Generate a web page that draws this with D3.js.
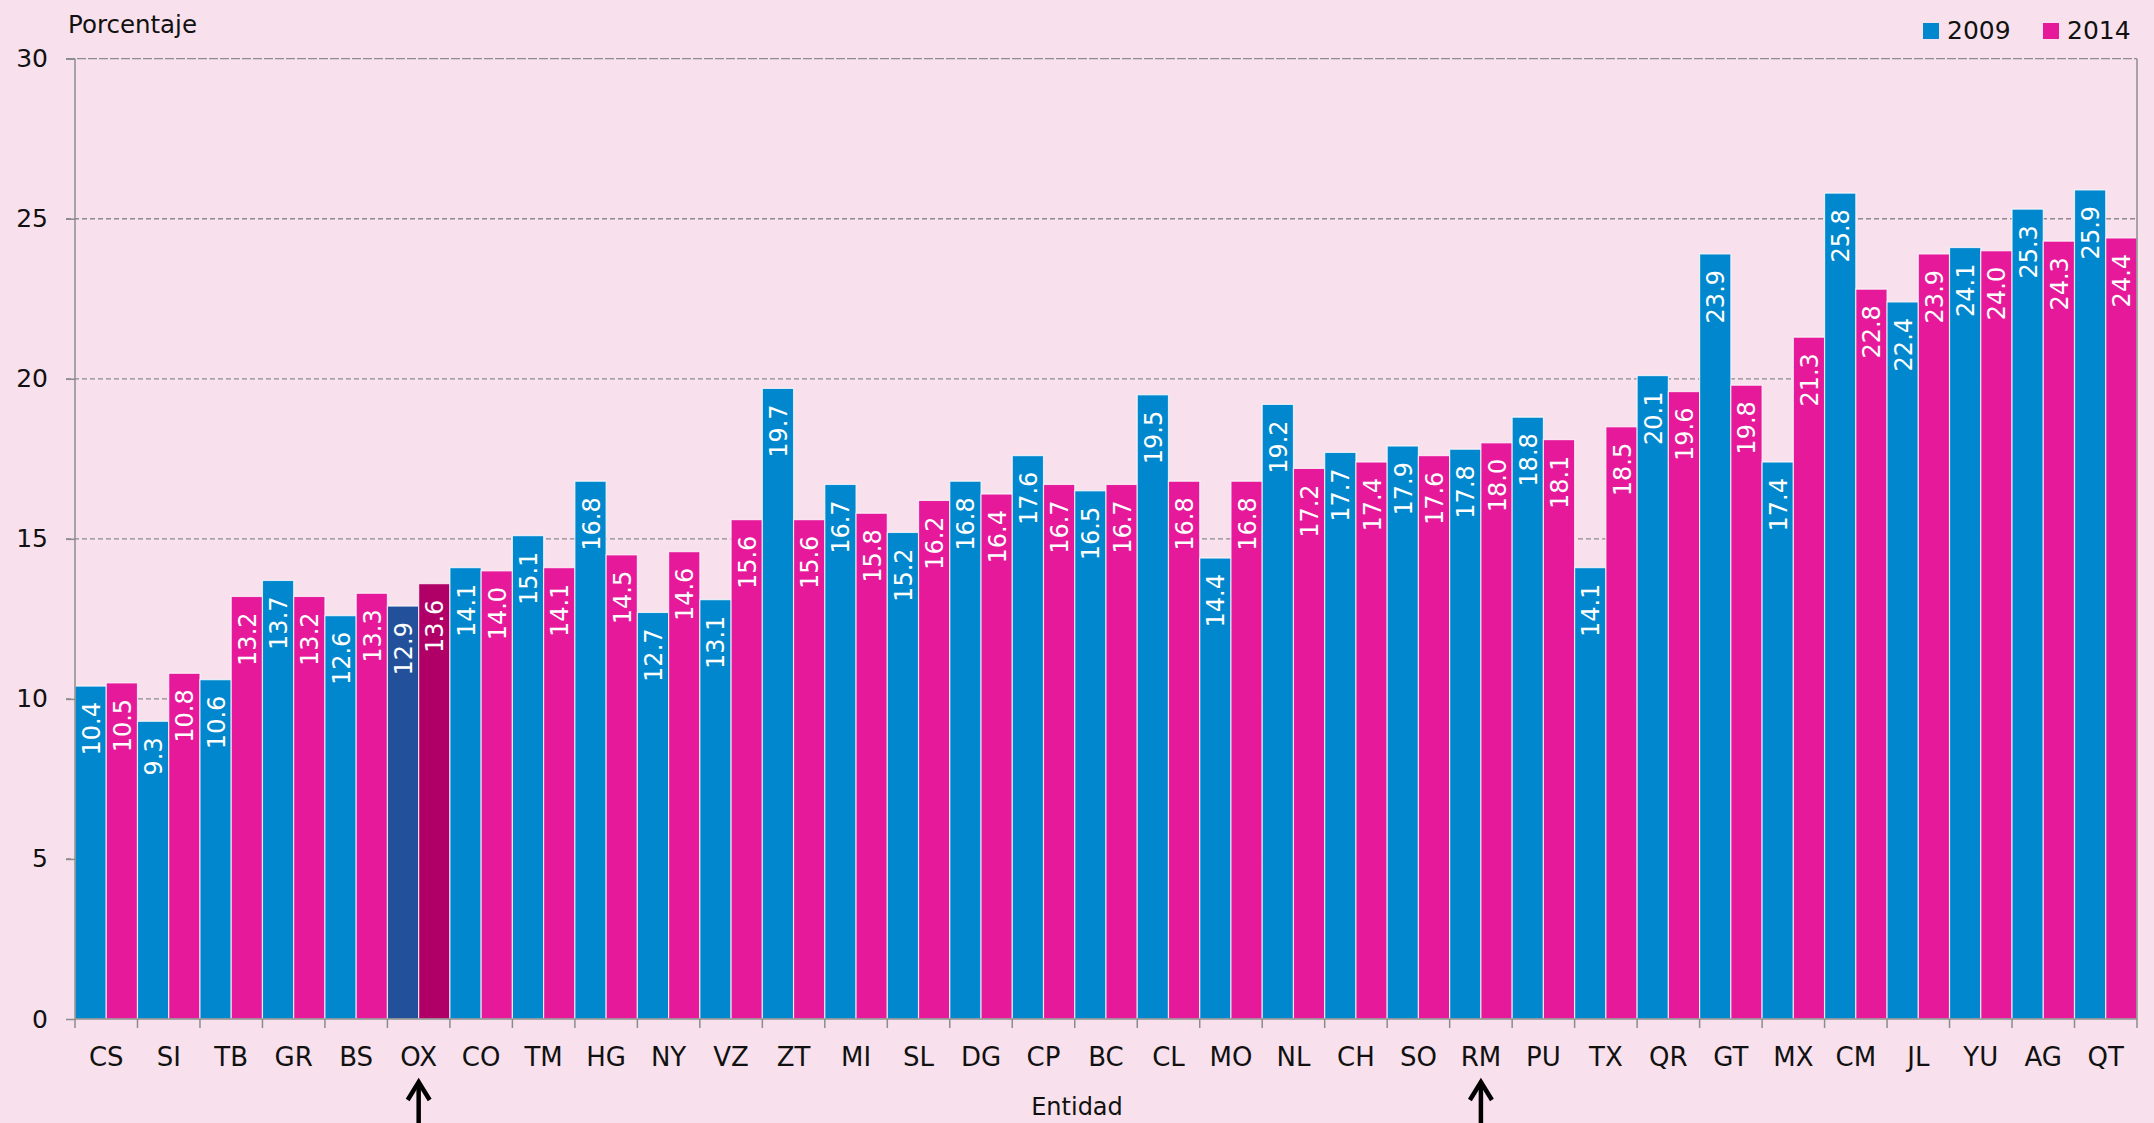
<!DOCTYPE html>
<html>
<head>
<meta charset="utf-8">
<script src="https://cdn.jsdelivr.net/npm/d3@7"></script>
<style>
  html, body { margin: 0; padding: 0; background: #F8E1EC; }
  svg { display: block; }
  text { font-family: "DejaVu Sans", "Noto Sans", sans-serif; }
</style>
</head>
<body>
<svg id="chart" width="2154" height="1123"></svg>
<script>
// Entities (states plus national total "RM")
const categories = ["CS","SI","TB","GR","BS","OX","CO","TM","HG","NY","VZ","ZT","MI","SL","DG","CP","BC","CL","MO","NL","CH","SO","RM","PU","TX","QR","GT","MX","CM","JL","YU","AG","QT"];
const values2009 = [10.4,9.3,10.6,13.7,12.6,12.9,14.1,15.1,16.8,12.7,13.1,19.7,16.7,15.2,16.8,17.6,16.5,19.5,14.4,19.2,17.7,17.9,17.8,18.8,14.1,20.1,23.9,17.4,25.8,22.4,24.1,25.3,25.9];
const values2014 = [10.5,10.8,13.2,13.2,13.3,13.6,14.0,14.1,14.5,14.6,15.6,15.6,15.8,16.2,16.4,16.7,16.7,16.8,16.8,17.2,17.4,17.6,18.0,18.1,18.5,19.6,19.8,21.3,22.8,23.9,24.0,24.3,24.4];
const seriesNames = ["2009","2014"];
const yTicks = [0,5,10,15,20,25,30];
const highlighted = ["OX","RM"];
const darkBar = {"OX": ["#23509A", "#B00068"]};

const colors = ["#0087CE", "#E5199A"];

const svg = d3.select("#chart");
const margin = {left: 75, right: 17, top: 58.7, bottom: 104};
const W = 2154, H = 1123;
const x0 = margin.left, x1 = W - margin.right;
const yTop = margin.top, yBot = H - margin.bottom;

const x = d3.scaleBand().domain(categories).range([x0, x1]).paddingInner(0).paddingOuter(0);
const xs = d3.scaleBand().domain(seriesNames).range([0, x.bandwidth()]).padding(0);
const y = d3.scaleLinear().domain([0, 30]).range([yBot, yTop]);

// Horizontal dashed gridlines
svg.append("g").selectAll("line").data(yTicks.filter(d => d > 0)).join("line")
  .attr("x1", x0 - 9).attr("x2", x1)
  .attr("y1", d => y(d)).attr("y2", d => y(d))
  .attr("stroke", "#8c8c8c").attr("stroke-width", 1.3)
  .attr("stroke-dasharray", d => d === 30 ? "9,2" : "5,3");

// Bars
const rows = categories.map((c, i) => ({c, v: [values2009[i], values2014[i]]}));
const grp = svg.append("g").selectAll("g").data(rows).join("g")
  .attr("transform", d => `translate(${x(d.c)},0)`);

grp.selectAll("rect").data(d => d.v.map((v, k) => ({c: d.c, v, k}))).join("rect")
  .attr("x", d => xs(seriesNames[d.k]))
  .attr("width", xs.bandwidth())
  .attr("y", d => y(d.v))
  .attr("height", d => y(0) - y(d.v))
  .attr("fill", d => darkBar[d.c] ? darkBar[d.c][d.k] : colors[d.k])
  .attr("stroke", "rgba(255,255,255,0.75)").attr("stroke-width", 1.2);

// Value labels, rotated inside the top of each bar
grp.selectAll("text").data(d => d.v.map((v, k) => ({c: d.c, v, k}))).join("text")
  .attr("transform", d => `translate(${xs(seriesNames[d.k]) + xs.bandwidth() / 2 + 1},${y(d.v) + 16}) rotate(-90)`)
  .attr("text-anchor", "end")
  .attr("dominant-baseline", "central")
  .attr("fill", "#ffffff")
  .attr("font-size", 24)
  .text(d => d.v.toFixed(1));

// Left axis line and right frame
svg.append("line").attr("x1", x0).attr("x2", x0).attr("y1", yTop).attr("y2", yBot)
  .attr("stroke", "#8c8c8c").attr("stroke-width", 1.5);
svg.append("line").attr("x1", x1).attr("x2", x1).attr("y1", yTop).attr("y2", yBot)
  .attr("stroke", "#8c8c8c").attr("stroke-width", 1.5);

// Y axis
const yAxis = svg.append("g").attr("transform", `translate(${x0},0)`)
  .call(d3.axisLeft(y).tickValues(yTicks).tickSize(9).tickPadding(18));
yAxis.select(".domain").remove();
yAxis.selectAll(".tick line").attr("stroke", "#8c8c8c").attr("stroke-width", 1.5);
yAxis.selectAll(".tick text").attr("font-size", 25).attr("fill", "#111")
  .attr("font-family", "'DejaVu Sans', sans-serif");

// X axis: ticks at category boundaries
const xAxisG = svg.append("g");
xAxisG.append("line").attr("x1", x0).attr("x2", x1).attr("y1", yBot).attr("y2", yBot)
  .attr("stroke", "#8c8c8c").attr("stroke-width", 1.5);
const bounds = categories.map(c => x(c)).concat([x1]);
xAxisG.selectAll("line.b").data(bounds).join("line").attr("class", "b")
  .attr("x1", d => d).attr("x2", d => d).attr("y1", yBot).attr("y2", yBot + 9)
  .attr("stroke", "#8c8c8c").attr("stroke-width", 1.5);
xAxisG.selectAll("text").data(categories).join("text")
  .attr("x", d => x(d) + x.bandwidth() / 2)
  .attr("y", yBot + 47)
  .attr("text-anchor", "middle")
  .attr("font-size", 26).attr("fill", "#111")
  .text(d => d);

// Axis titles
svg.append("text").attr("x", 68).attr("y", 33).attr("font-size", 24.5).attr("fill", "#111").text("Porcentaje");
svg.append("text").attr("x", W / 2).attr("y", 1115).attr("text-anchor", "middle")
  .attr("font-size", 24).attr("fill", "#111").text("Entidad");

// Arrows pointing at highlighted entities
highlighted.forEach(c => {
  const cx = x(c) + x.bandwidth() / 2;
  const top = 1080;
  const a = svg.append("g").attr("stroke", "#000").attr("stroke-width", 4.5).attr("fill", "none");
  a.append("line").attr("x1", cx).attr("x2", cx).attr("y1", top + 2).attr("y2", H);
  a.append("path").attr("d", `M${cx - 11},${top + 20} L${cx},${top + 2} L${cx + 11},${top + 20}`)
    .attr("stroke-linejoin", "miter");
});

// Legend
const leg = svg.append("g");
const legX = [1923, 2043];
seriesNames.forEach((s, k) => {
  leg.append("rect").attr("x", legX[k]).attr("y", 23).attr("width", 16).attr("height", 16).attr("fill", colors[k]);
  leg.append("text").attr("x", legX[k] + 24).attr("y", 39).attr("font-size", 25).attr("fill", "#111").text(s);
});
</script>
</body>
</html>
